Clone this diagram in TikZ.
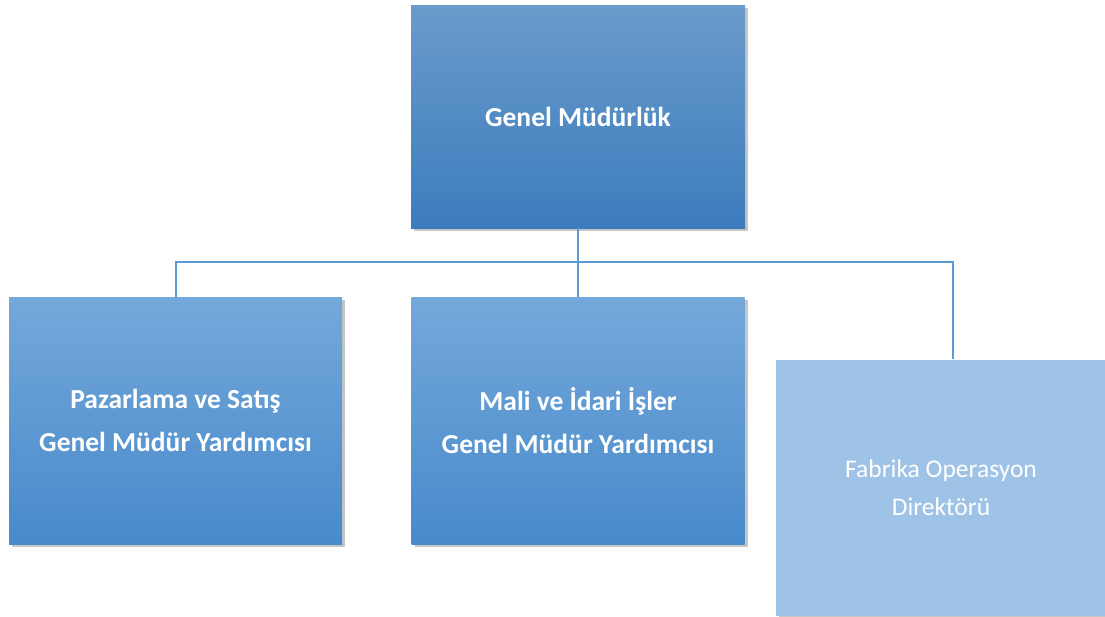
\documentclass[tikz,border=0pt]{standalone}
\usepackage{fontspec}
\setmainfont{Carlito}
\usepackage{tikz}
\usetikzlibrary{shadows}

\definecolor{unitTop}{RGB}{106,155,203}
\definecolor{unitBot}{RGB}{60,124,189}
\definecolor{subTop}{RGB}{116,168,218}
\definecolor{subMid}{RGB}{92,157,217}
\definecolor{subBot}{RGB}{72,138,203}
\definecolor{pale}{RGB}{158,195,230}
\definecolor{wire}{RGB}{91,155,213}

\tikzset{
	unit/.style = {align = center, text = white, font = \fontsize{25}{40}\selectfont,
		drop shadow = {shadow xshift = 3pt, shadow yshift = -3pt, opacity = 0.45}},
	headbox/.style = {unit, top color = unitTop, bottom color = unitBot, font = \bfseries\fontsize{27.5}{42}\selectfont,
		minimum width = 334pt, minimum height = 223pt},
	subbox/.style = {unit, top color = subTop, middle color = subMid, bottom color = subBot,
		font = \bfseries\fontsize{27.5}{42.5}\selectfont, minimum width = 333pt, minimum height = 247pt},
	palebox/.style = {unit, fill = pale, minimum width = 330pt, minimum height = 256pt,
		font = \fontsize{25.5}{38}\selectfont},
	wireline/.style = {draw = wire, line width = 2pt}
}

\begin{document}
\begin{tikzpicture}[x = 1pt, y = -1pt]
	\useasboundingbox (0,0) rectangle (1105,616);
	\node [headbox] (gm) at (578,116.5) {Genel Müdürlük};
	\node [subbox] (pazar) at (175.5,420.5) {Pazarlama ve Satış\\Genel Müdür Yardımcısı};
	\node [subbox] (mali) at (578,420.5) {Mali ve İdari İşler\\Genel Müdür Yardımcısı};
	\node [palebox] (fab) at (941,487.5) {Fabrika Operasyon\\Direktörü};
	\coordinate (bus) at (0,262);
	\coordinate (fabin) at ([xshift = 12pt]fab.north);

	\draw [wireline] (gm.south) -- (gm.south |- bus);
	\draw [wireline] (pazar.north) -- (pazar.north |- bus) -- (fabin |- bus) -- (fabin);
	\draw [wireline] (mali.north) -- (mali.north |- bus);
\end{tikzpicture}
\end{document}
